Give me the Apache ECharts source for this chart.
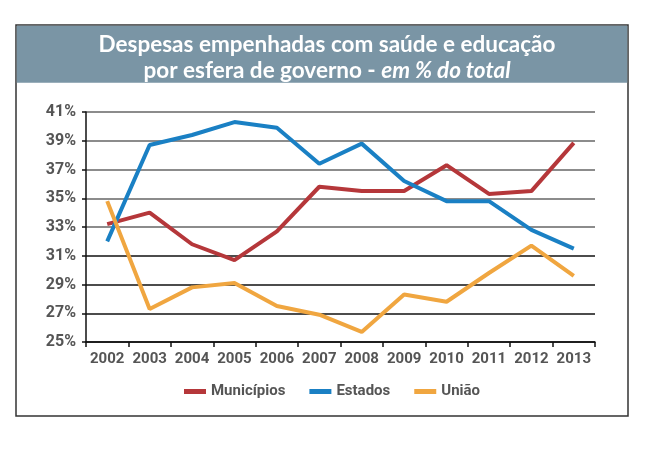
<!DOCTYPE html>
<html><head><meta charset="utf-8">
<script src="https://cdn.jsdelivr.net/npm/echarts@6/dist/echarts.min.js"></script>
<style>html,body{margin:0;padding:0;background:#fff}#c{width:664px;height:464px}</style>
</head><body><div id="c"></div>
<script>
const years = ['2002','2003','2004','2005','2006','2007','2008','2009','2010','2011','2012','2013'];
const municipios = [33.2, 34.0, 31.8, 30.7, 32.7, 35.8, 35.5, 35.5, 37.3, 35.3, 35.5, 38.85];
const estados = [32.0, 38.7, 39.4, 40.3, 39.9, 37.4, 38.8, 36.2, 34.8, 34.8, 32.8, 31.5];
const uniao = [34.8, 27.3, 28.8, 29.1, 27.5, 26.9, 25.7, 28.3, 27.8, 29.8, 31.7, 29.6];
const seriesNames = ['Municípios', 'Estados', 'União'];
const colors = ['#b5373a', '#1a80c4', '#f0a640'];

const labelFont = 'Roboto, "Liberation Sans Narrow", sans-serif';
const chart = echarts.init(document.getElementById('c'), null, {renderer: 'canvas'});
const mk = (name, data, i) => ({
  name, type: 'line', data, symbol: 'none', smooth: false,
  lineStyle: {color: colors[i], width: 4}, itemStyle: {color: colors[i]}
});
chart.setOption({
  animation: false,
  graphic: [
    {type: 'rect', shape: {x: 16, y: 25, width: 612, height: 391}, style: {fill: '#fff', stroke: '#333', lineWidth: 1.5}, z: -10},
    {type: 'rect', shape: {x: 16.75, y: 25.75, width: 610.5, height: 57}, style: {fill: '#7a95a5'}, z: -9}
  ],
  title: {
    text: '{a|Despesas empenhadas com saúde e educação}\n{a|por esfera de governo - }{b|em % do total}',
    left: 322, textAlign: 'center', top: 27,
    textStyle: {
      rich: {
        a: {fontFamily: 'Lato', fontWeight: 'bold', fontSize: 22.5, color: '#fff', lineHeight: 26},
        b: {fontFamily: 'Lato', fontStyle: 'italic', fontSize: 22.5, color: '#fff', lineHeight: 26}
      }
    }
  },
  legend: {
    data: seriesNames, top: 379, left: 'center', itemWidth: 22, itemHeight: 5, itemGap: 24,
    icon: 'rect',
    textStyle: {fontFamily: labelFont, fontWeight: 'bold', fontSize: 15, color: '#555'}
  },
  grid: {left: 86, right: 69, top: 112, bottom: 122, containLabel: false},
  xAxis: {
    type: 'category', data: years, boundaryGap: true,
    axisLine: {lineStyle: {color: '#111', width: 1.5}},
    axisTick: {show: true, length: 5, lineStyle: {color: '#111', width: 1.5}},
    axisLabel: {interval: 0, fontFamily: labelFont, fontWeight: 'bold', fontSize: 15, color: '#555', margin: 10}
  },
  yAxis: {
    type: 'value', min: 25, max: 41, interval: 2,
    axisLine: {show: true, lineStyle: {color: '#111', width: 1.5}},
    axisTick: {show: true, length: 4, lineStyle: {color: '#111', width: 1.5}},
    axisLabel: {fontFamily: labelFont, fontWeight: 'bold', fontSize: 16, color: '#555', margin: 10, formatter: '{value}%'},
    splitLine: {show: true, lineStyle: {color: ['#111','#111','#111','#111','#666','#666','#666','#666','#666'], width: 1.5}}
  },
  series: [mk(seriesNames[0], municipios, 0), mk(seriesNames[1], estados, 1), mk(seriesNames[2], uniao, 2)]
});
</script></body></html>
